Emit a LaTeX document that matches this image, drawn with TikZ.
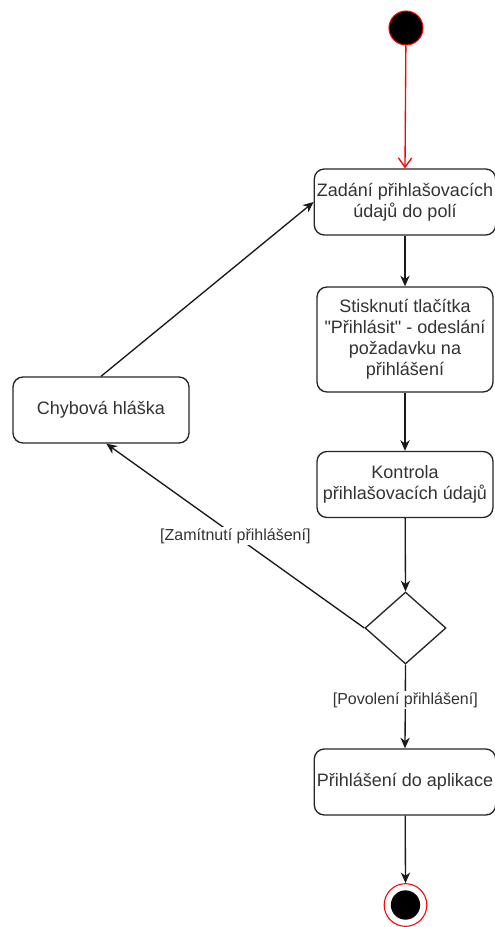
\documentclass[tikz,border=0pt]{standalone}
\usepackage{fontspec}
\setmainfont{Liberation Sans}
\newfontfamily\qfont{Liberation Sans}
\usetikzlibrary{shapes.geometric,arrows.meta}
\begin{document}
\begin{tikzpicture}[x=0.75pt,y=-0.75pt,
  act/.style={draw=black!85,line width=1pt,rounded corners=7.5pt,fill=white,
    minimum width=132pt,minimum height=49.5pt,align=center,inner sep=2pt,
    text=black!80,font=\fontsize{13.5}{15.75}\selectfont},
  decis/.style={draw=black!85,line width=1pt,diamond,fill=white,
    minimum width=60.75pt,minimum height=54pt,inner sep=0pt},
  flow/.style={draw=black!90,line width=1pt,-{Stealth[length=8pt,width=7pt,inset=2.5pt]}},
  lbl/.style={fill=white,text=black!80,font=\fontsize{12}{13.5}\selectfont,inner sep=1pt}
]
\useasboundingbox (0,0) rectangle (494,927);
\node[circle,draw=red,fill=black,line width=0.8pt,minimum size=25.5pt,inner sep=0pt] (start) at (406,28) {};
\node[act] (zad) at (405,202) {Zadání přihlašovacích\\údajů do polí};
\node[act,minimum height=78.75pt] (stisk) at (405,339.5) {Stisknutí tlačítka\\{\qfont"}Přihlásit{\qfont"} - odeslání\\požadavku na\\přihlášení};
\node[act] (kontr) at (405,484.5) {Kontrola\\přihlašovacích údajů};
\node[decis] (dec) at (405.5,628) {};
\node[act] (prihl) at (405,782) {Přihlášení do aplikace};
\node[act] (chyba) at (101,410) {Chybová hláška};
\node[circle,draw=red,fill=white,line width=0.8pt,minimum size=32pt,inner sep=0pt] (end) at (405.5,905) {};
\node[circle,fill=black,minimum size=22pt,inner sep=0pt] (endin) at (end.center) {};

\draw[draw=red,line width=1pt,-{Straight Barb[length=7pt,width=10pt]}] (start) -- (zad.north);
\draw[flow] (zad) -- (stisk);
\draw[flow] (stisk) -- (kontr);
\draw[flow] (kontr) -- (dec.north);
\draw[flow] (dec.south) -- node[lbl,pos=0.42] {[Povolení přihlášení]} (prihl.north);
\draw[flow] (prihl) -- (end.north);
\draw[flow] (dec.west) -- node[lbl,pos=0.5] {[Zamítnutí přihlášení]} ([xshift=4]chyba.south);
\draw[flow] (chyba.north) -- (zad.west);
\end{tikzpicture}
\end{document}
